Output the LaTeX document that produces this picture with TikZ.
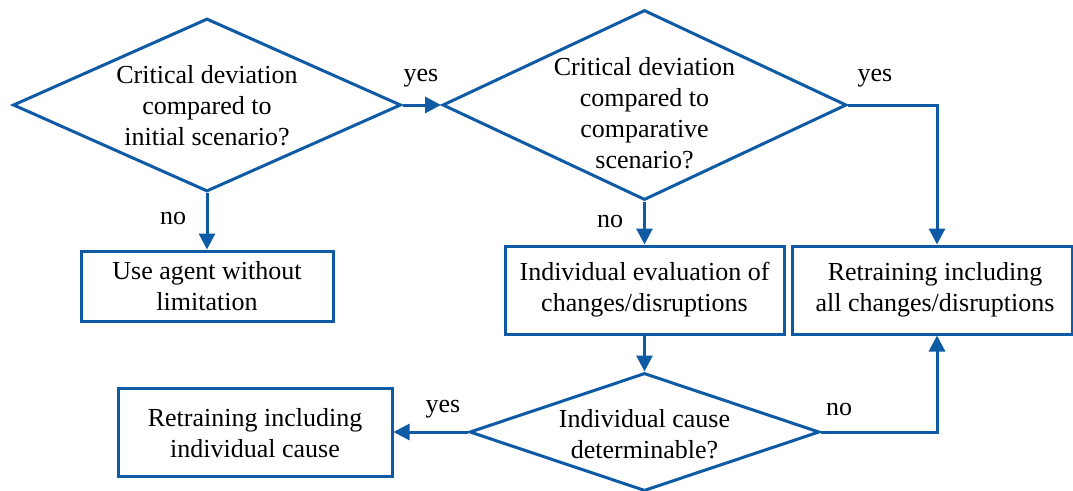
\documentclass[tikz,border=0pt]{standalone}
\usepackage{fontspec}
\setmainfont{LiberationSerif}[Extension=.ttf,UprightFont=*-Regular]
\usetikzlibrary{shapes.geometric,arrows.meta}
\definecolor{flowblue}{RGB}{14,90,165}
\begin{document}
\begin{tikzpicture}[x=1pt,y=-1pt,
  every node/.style={font=\rmfamily\fontsize{26}{31}\selectfont},
  dec/.style={shape=diamond,draw=flowblue,line width=3pt,inner sep=0pt},
  box/.style={shape=rectangle,draw=flowblue,line width=3pt,inner sep=0pt},
  txt/.style={align=center,inner sep=0pt},
  lbl/.style={inner sep=0pt},
  conn/.style={draw=flowblue,line width=3pt,-{Triangle[length=16pt,width=16pt]}}]
\useasboundingbox (0,0) rectangle (1073,490);
% decisions
\node[dec,minimum width=388pt,minimum height=173pt] (d1) at (207,105) {};
\node[txt] (d1t) at (207,106) {Critical deviation\\compared to\\initial scenario?};
\node[dec,minimum width=404pt,minimum height=190pt] (d2) at (644.5,105) {};
\node[txt] (d2t) at (644.5,113) {Critical deviation\\compared to\\comparative\\scenario?};
\node[dec,minimum width=350pt,minimum height=118pt] (d3) at (644.5,432) {};
\node[txt] (d3t) at (644.5,434) {Individual cause\\determinable?};
% boxes
\node[box,minimum width=252pt,minimum height=70pt] (b1) at (207,286) {};
\node[txt] (b1t) at (207,286) {Use agent without\\limitation};
\node[box,minimum width=279pt,minimum height=88pt] (b2) at (644.5,290) {};
\node[txt] (b2t) at (644.5,290) {Individual evaluation of\\changes/disruptions};
\node[box,minimum width=280pt,minimum height=88pt] (b3) at (932,290) {};
\node[txt] (b3t) at (935,290) {Retraining including\\all changes/disruptions};
\node[box,minimum width=274pt,minimum height=88pt] (b4) at (255,432) {};
\node[txt] (b4t) at (255,433) {Retraining including\\individual cause};
% bend points
\coordinate (c1) at (937,105);
\coordinate (c2) at (937,432);
% connectors
\draw[conn] (d1.east) -- (d2.west);
\draw[conn] (d1.south) -- (b1.north);
\draw[conn] (d2.south) -- (b2.north);
\draw[conn] (d2.east) -- (c1) -- (c1 |- b3.north);
\draw[conn] (b2.south) -- (d3.north);
\draw[conn] (d3.west) -- (b4.east);
\draw[conn] (d3.east) -- (c2) -- (c2 |- b3.south);
% labels
\node[lbl] (l1) at (421,78) {yes};
\node[lbl] (l2) at (173,218) {no};
\node[lbl] (l3) at (610,221) {no};
\node[lbl] (l4) at (875,78) {yes};
\node[lbl] (l5) at (443,409) {yes};
\node[lbl] (l6) at (839,409) {no};
\end{tikzpicture}
\end{document}
